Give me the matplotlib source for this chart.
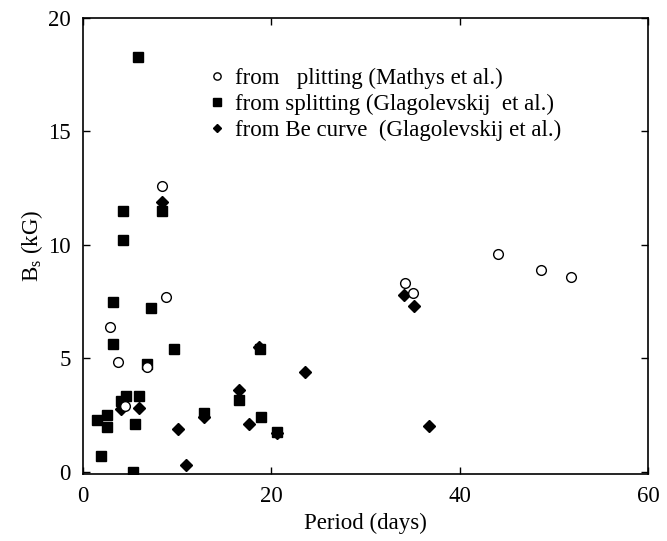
import matplotlib as mpl
mpl.use('Agg')
import matplotlib.pyplot as plt

# Data: period (days) vs Bs (kG)
mathys_p = [2.9, 3.7, 4.5, 6.8, 8.4, 8.8, 34.2, 35.0, 44.1, 48.6, 51.8]
mathys_b = [6.4, 4.85, 2.9, 4.6, 12.6, 7.7, 8.3, 7.9, 9.6, 8.9, 8.6]

split_p = [1.5, 1.9, 2.5, 2.5, 3.2, 3.2, 4.2, 4.3, 4.0, 4.6, 5.9, 5.5, 5.3, 5.8,
           6.8, 7.2, 8.4, 9.7, 12.8, 16.6, 18.8, 18.9, 20.6]
split_b = [2.3, 0.7, 2.5, 1.95, 7.5, 5.65, 10.2, 11.5, 3.1, 3.35, 3.35, 2.1, 0.0, 18.3,
           4.75, 7.2, 11.5, 5.4, 2.6, 3.15, 5.4, 2.4, 1.75]

becurve_p = [4.0, 5.9, 8.4, 10.1, 10.9, 12.8, 16.6, 17.6, 18.7, 20.6, 23.6, 34.1, 35.1, 36.7]
becurve_b = [2.75, 2.8, 11.9, 1.9, 0.3, 2.4, 3.6, 2.1, 5.5, 1.7, 4.4, 7.8, 7.3, 2.0]

xticks = [0, 20, 40, 60]
yticks = [0, 5, 10, 15, 20]

plt.rcParams['font.family'] = ['Liberation Serif', 'DejaVu Serif']
plt.rcParams['mathtext.fontset'] = 'custom'
plt.rcParams['mathtext.rm'] = 'Liberation Serif'

fig = plt.figure(figsize=(6.67, 5.41), dpi=100, facecolor='white')
ax = fig.add_axes([83/667, 1-474/541, 565/667, 456/541])

ax.plot(split_p, split_b, 's', color='black', ms=6.8, linestyle='none',
        label='from splitting (Glagolevskij  et al.)')
ax.plot(becurve_p, becurve_b, 'D', color='black', ms=6.0, linestyle='none',
        label='from Be curve  (Glagolevskij et al.)')
ax.plot(mathys_p, mathys_b, 'o', mfc='white', mec='black', mew=1.0, ms=7, linestyle='none',
        label='from   plitting (Mathys et al.)')

# Legend in the original order
h, l = ax.get_legend_handles_labels()
order = [2, 0, 1]
ax.legend([h[i] for i in order], [l[i] for i in order], loc='upper left',
          bbox_to_anchor=(210/667, 1-68/541), bbox_transform=fig.transFigure,
          frameon=False, fontsize=16.5, handlelength=0.6, handletextpad=0.5,
          labelspacing=0.2, markerscale=0.75, borderpad=0, borderaxespad=0)

ax.set_xlim(0, 60)
ax.set_ylim(-0.1, 20)
ax.set_xticks(xticks)
ax.set_yticks(yticks)
ax.tick_params(direction='in', length=5, width=1, labelsize=16.5, pad=9,
               top=True, right=True)
for s in ax.spines.values():
    s.set_linewidth(1.2)

ax.set_xlabel('Period (days)', fontsize=16.5, labelpad=4)
ax.set_ylabel(r'B$_\mathregular{s}$ (kG)', fontsize=16.5, labelpad=2)

plt.savefig('out.png', dpi=100, facecolor='white')
plt.close()
